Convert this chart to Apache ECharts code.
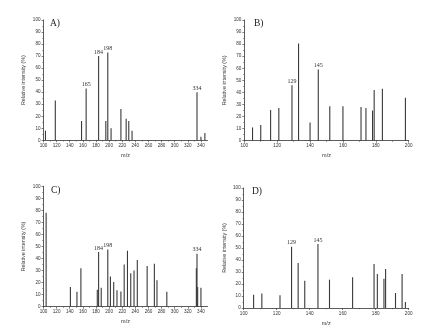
<!DOCTYPE html>
<html><head><meta charset="utf-8">
<script src="https://cdn.jsdelivr.net/npm/echarts@6/dist/echarts.min.js"></script>
<style>html,body{margin:0;padding:0;background:#fff}#c{width:442px;height:336px}</style>
</head><body><div id="c"></div>
<script>
// Panel A
const mzA = [103,118,158,165,184,195,198,203,218,226,230,235,334,340,346];
const intA = [8,33,16,43,70,16,73,10,26,18,16,8,40,3,6];
const peaksA = [165,184,198,334];
// Panel B
const mzB = [105,110,116,121,129,133,140,145,152,160,171,174,178,179,184,198];
const intB = [11,13,25.5,27,46,80.5,15,59,28.5,28.5,28,27,25,42,43,35.5];
const peaksB = [129,145];
// Panel C
const mzC = [104,141,151,157,182,184,188,198,202,207,212,218,223,228,233,238,243,258,269,273,288,333,334,335,340];
const intC = [78,16.3,12.5,32,14,45.4,15.8,47.6,25,20.5,13.6,12.7,35,46.5,27.7,30,38.8,33.8,35.7,21.9,12.5,32,44,16.3,15.8];
const peaksC = [184,198,334];
// Panel D
const mzD = [106,111,122,129,133,137,145,152,166,179,181,185,186,192,196,198];
const intD = [11.1,12,10.6,51,37.5,22.8,53.3,23.6,25.6,36.7,28.3,24.4,32.5,12.5,28.3,5];
const peaksD = [129,145];

const xTicksWide = [100,120,140,160,180,200,220,240,260,280,300,320,340];
const xTicksNarrow = [100,120,140,160,180,200];
const yTicks = [0,10,20,30,40,50,60,70,80,90,100];
const panelNames = ['A)','B)','C)','D)'];
const yTitle = 'Relative intensity (%)';
const xTitle = 'm/z';

const grids = [
  {left:43.5, top:20, width:164, height:120.3},
  {left:244.3, top:20, width:164.4, height:120.7},
  {left:43.5, top:186.3, width:164, height:120.4},
  {left:243.7, top:188, width:165, height:120}
];
const panels = [
  {mz:mzA, it:intA, pk:peaksA, ticks:xTicksWide, min:100, max:350},
  {mz:mzB, it:intB, pk:peaksB, ticks:xTicksNarrow, min:100, max:200},
  {mz:mzC, it:intC, pk:peaksC, ticks:xTicksWide, min:100, max:350},
  {mz:mzD, it:intD, pk:peaksD, ticks:xTicksNarrow, min:100, max:200}
];
const axisCol = '#333';
const tickFont = {fontFamily:'Liberation Sans', fontSize:4.6, color:'#333'};
const xAxes = [], yAxes = [], series = [], graphics = [];
panels.forEach((p,i)=>{
  xAxes.push({
    type:'value', gridIndex:i, min:p.min, max:p.max, interval:20,
    name:xTitle, nameLocation:'middle', nameGap:12,
    nameTextStyle:{fontFamily:'Liberation Sans', fontSize:5.5, color:'#333'},
    axisLine:{show:true, lineStyle:{color:axisCol, width:0.8}},
    axisTick:{show:true, length:2, inside:false, customValues:p.ticks, lineStyle:{color:axisCol, width:0.6}},
    minorTick:{show:true, splitNumber:2, length:1.2, lineStyle:{color:axisCol, width:0.5}},
    axisLabel:{...tickFont, margin:3, customValues:p.ticks},
    splitLine:{show:false}
  });
  yAxes.push({
    type:'value', gridIndex:i, min:0, max:100, interval:10,
    name:yTitle, nameLocation:'middle', nameGap:17,
    nameTextStyle:{fontFamily:'Liberation Sans', fontSize:5.3, color:'#333'},
    axisLine:{show:true, lineStyle:{color:axisCol, width:0.8}},
    axisTick:{show:true, length:2, inside:false, lineStyle:{color:axisCol, width:0.6}},
    minorTick:{show:true, splitNumber:2, length:1.2, lineStyle:{color:axisCol, width:0.5}},
    axisLabel:{...tickFont, margin:3, formatter:v=>yTicks.includes(v)?String(v):''},
    splitLine:{show:false}
  });
  series.push({
    type:'bar', xAxisIndex:i, yAxisIndex:i, barWidth:1.1, silent:true, animation:false,
    itemStyle:{color:'#3a3a3a'},
    data:p.mz.map((m,k)=>{
      const d = {value:[m,p.it[k]]};
      if (p.pk.includes(m)) d.label = {show:true, position:'top', distance:1,
        formatter:String(m), fontFamily:'Liberation Serif', fontSize:6, color:'#333'};
      return d;
    })
  });
});
const letterPos = [[50,18],[254,18],[51,185],[252,186]];
panelNames.forEach((t,i)=>{
  graphics.push({type:'text', left:letterPos[i][0], top:letterPos[i][1],
    style:{text:t, font:'9.5px "Liberation Serif"', fill:'#222'}});
});
const chart = echarts.init(document.getElementById('c'), null, {renderer:'canvas'});
chart.setOption({
  animation:false, backgroundColor:'#fff',
  grid:grids, xAxis:xAxes, yAxis:yAxes, series:series, graphic:graphics
});
</script></body></html>
